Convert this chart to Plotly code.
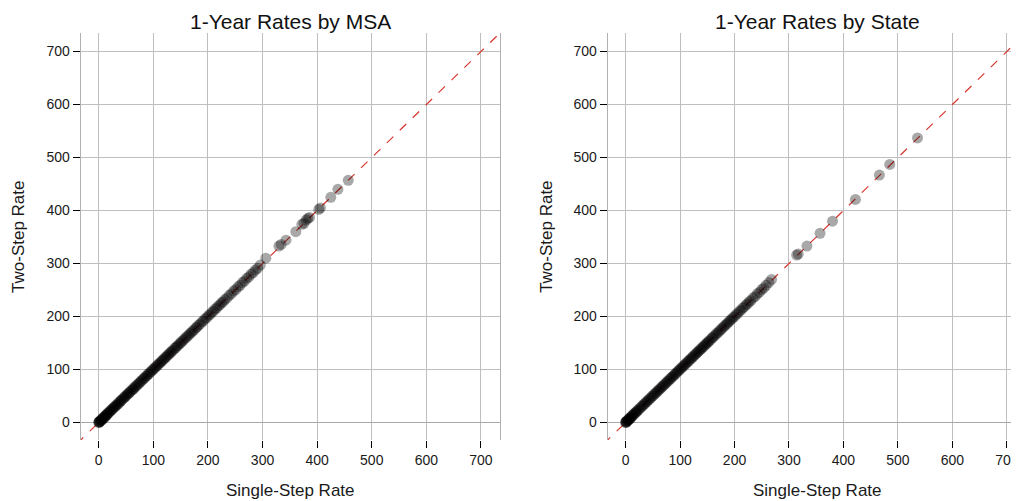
import plotly.graph_objects as go
from plotly.subplots import make_subplots

# ---- data ----
msa_single = [0, 0.5, 1, 1.5, 2, 3, 4, 5, 6, 7, 8, 9, 10, 11, 12, 13, 14, 15, 16, 18, 19, 21, 22, 24, 25,
              27, 28, 30, 31, 33, 35, 36, 38, 40, 41, 43, 45, 47, 48, 50, 52, 54, 55, 57, 59, 61, 63, 64,
              66, 68, 70, 72, 74, 76, 78, 80, 82, 84, 86, 88, 90, 92, 94, 96, 98, 100, 102, 104, 106, 108,
              110, 112, 114, 116, 118, 120, 122, 124, 126, 128, 130, 132, 134, 136, 139, 141, 143, 145, 148,
              150, 152, 155, 157, 160, 162, 165, 167, 170, 172, 175, 178, 180, 183, 186, 189, 192, 195, 198,
              201, 204, 207, 210, 213, 216, 219, 222, 225, 228, 231, 235, 239, 243, 247, 251, 255, 259, 263,
              267, 271, 275, 279, 283, 287, 291, 296, 306, 330, 334, 343, 361, 372, 376, 380, 383, 386, 403,
              406, 425, 438, 457]
msa_two = [0, 1, 0.5, 2, 1.5, 3, 5, 4, 6, 8, 7, 10, 9, 11, 13, 12, 15, 14, 17, 18, 20, 21, 23, 24, 26,
           27, 29, 30, 32, 33, 36, 35, 39, 40, 42, 43, 46, 47, 49, 50, 53, 54, 56, 57, 60, 61, 64, 63,
           67, 68, 71, 72, 75, 76, 79, 80, 83, 84, 87, 88, 91, 92, 95, 96, 99, 100, 103, 104, 107, 108,
           111, 112, 115, 116, 119, 120, 123, 124, 127, 128, 131, 132, 135, 136, 140, 141, 144, 145, 149,
           150, 153, 155, 158, 160, 163, 165, 168, 170, 173, 175, 179, 180, 184, 186, 190, 192, 196, 198,
           202, 204, 208, 210, 214, 216, 220, 222, 226, 228, 232, 235, 240, 243, 248, 251, 256, 259, 264,
           267, 272, 275, 280, 283, 288, 291, 297, 310, 333, 336, 344, 360, 374, 376, 382, 385, 387, 402,
           405, 425, 440, 457]

state_single = [0, 0.5, 1, 1.5, 2, 3, 4, 5, 6, 7, 8, 9, 10, 11, 12, 14, 15, 17, 18, 20, 21, 23, 25, 27,
                29, 31, 33, 35, 37, 39, 41, 43, 45, 47, 49, 51, 53, 55, 57, 59, 61, 63, 65, 67, 69, 71, 73,
                75, 77, 79, 81, 83, 85, 87, 89, 91, 93, 95, 97, 99, 101, 103, 105, 107, 109, 111, 113, 115,
                117, 119, 121, 123, 125, 127, 129, 131, 133, 135, 137, 139, 141, 143, 145, 147, 149, 151,
                153, 155, 158, 160, 162, 165, 167, 170, 172, 175, 177, 180, 182, 185, 187, 190, 192, 195,
                197, 200, 203, 206, 209, 212, 215, 218, 221, 224, 227, 230, 234, 238, 242, 246, 250, 254,
                258, 263, 268, 314, 317, 333, 357, 380, 422, 466, 485, 536]
state_two = [0, 1, 0.5, 2, 1.5, 3, 5, 4, 6, 8, 7, 10, 9, 11, 13, 14, 16, 17, 19, 20, 22, 23, 26, 27,
             30, 31, 34, 35, 38, 39, 42, 43, 46, 47, 50, 51, 54, 55, 58, 59, 62, 63, 66, 67, 70, 71, 74,
             75, 78, 79, 82, 83, 86, 87, 90, 91, 94, 95, 98, 99, 102, 103, 106, 107, 110, 111, 114, 115,
             118, 119, 122, 123, 126, 127, 130, 131, 134, 135, 138, 139, 142, 143, 146, 147, 150, 151,
             154, 155, 159, 160, 163, 165, 168, 170, 173, 175, 178, 180, 183, 185, 188, 190, 193, 195,
             198, 200, 204, 206, 210, 212, 216, 218, 222, 224, 228, 230, 235, 238, 243, 246, 251, 254,
             259, 264, 270, 316, 318, 333, 357, 380, 421, 467, 487, 537]

ref_line = [-40, 760]
tick_vals = [0, 100, 200, 300, 400, 500, 600, 700]
titles = ["1-Year Rates by MSA", "1-Year Rates by State"]
x_title = "Single-Step Rate"
y_title = "Two-Step Rate"

# page has an 8px body margin; figure coords = page coords - 8
OFF = 8
W, H = 1019 - OFF, 501 - OFF
FONT = "Liberation Sans, Arial, sans-serif"


def px(xp):
    return (xp - OFF) / W


def py(yp):
    return 1 - (yp - OFF) / H


fig = make_subplots(rows=1, cols=2)

marker = dict(size=11, color="rgba(0,0,0,0.34)", line=dict(width=0))
line_style = dict(color="#D9362F", width=1.2, dash="dash")

for col, (xs, ys) in enumerate([(msa_single, msa_two), (state_single, state_two)], start=1):
    fig.add_trace(go.Scatter(x=ref_line, y=ref_line, mode="lines", line=line_style,
                             showlegend=False, hoverinfo="skip"), row=1, col=col)
    fig.add_trace(go.Scatter(x=xs, y=ys, mode="markers", marker=marker,
                             showlegend=False), row=1, col=col)

ydom = [py(440), py(33)]
xdoms = [[px(81), px(502)], [px(610), 1.0]]
xranges = [[-33, 735], [-33, 715]]

axis_common = dict(
    tickvals=tick_vals, ticks="outside", ticklen=7, tickcolor="black", tickwidth=1,
    showgrid=True, gridcolor="#BEBEBE", gridwidth=1,
    tickfont=dict(family=FONT, size=14, color="#1A1A1A"),
)

for i in range(2):
    xa = "xaxis" if i == 0 else "xaxis2"
    ya = "yaxis" if i == 0 else "yaxis2"
    fig.layout[xa].update(domain=xdoms[i], range=xranges[i], zeroline=False,
                          showline=False, ticklabeloverflow="allow", **axis_common)
    fig.layout[ya].update(domain=ydom, range=[-33, 735], zeroline=True,
                          zerolinecolor="#A8A8A8", zerolinewidth=1,
                          showline=True, linecolor="#B0B0B0", mirror=True, **axis_common)

annotations = []
centers = [(81 + 502) / 2, (610 + 1031) / 2]
ytitle_x = [18, 548]
for i in range(2):
    annotations.append(dict(text=titles[i], x=px(centers[i]), y=1.0, xref="paper", yref="paper",
                            showarrow=False, xanchor="center", yanchor="top",
                            font=dict(family=FONT, size=21, color="#111111")))
    annotations.append(dict(text=x_title, x=px(centers[i]), y=py(490), xref="paper", yref="paper",
                            showarrow=False, xanchor="center", yanchor="middle",
                            font=dict(family=FONT, size=17, color="#1A1A1A")))
    annotations.append(dict(text=y_title, x=px(ytitle_x[i]), y=py(237), xref="paper", yref="paper",
                            showarrow=False, xanchor="center", yanchor="middle", textangle=-90,
                            font=dict(family=FONT, size=17, color="#1A1A1A")))

fig.update_layout(
    width=W, height=H, autosize=False,
    margin=dict(l=0, r=0, t=0, b=0),
    paper_bgcolor="white", plot_bgcolor="white",
    annotations=annotations,
    font=dict(family=FONT),
)

fig.write_html("out.html")
